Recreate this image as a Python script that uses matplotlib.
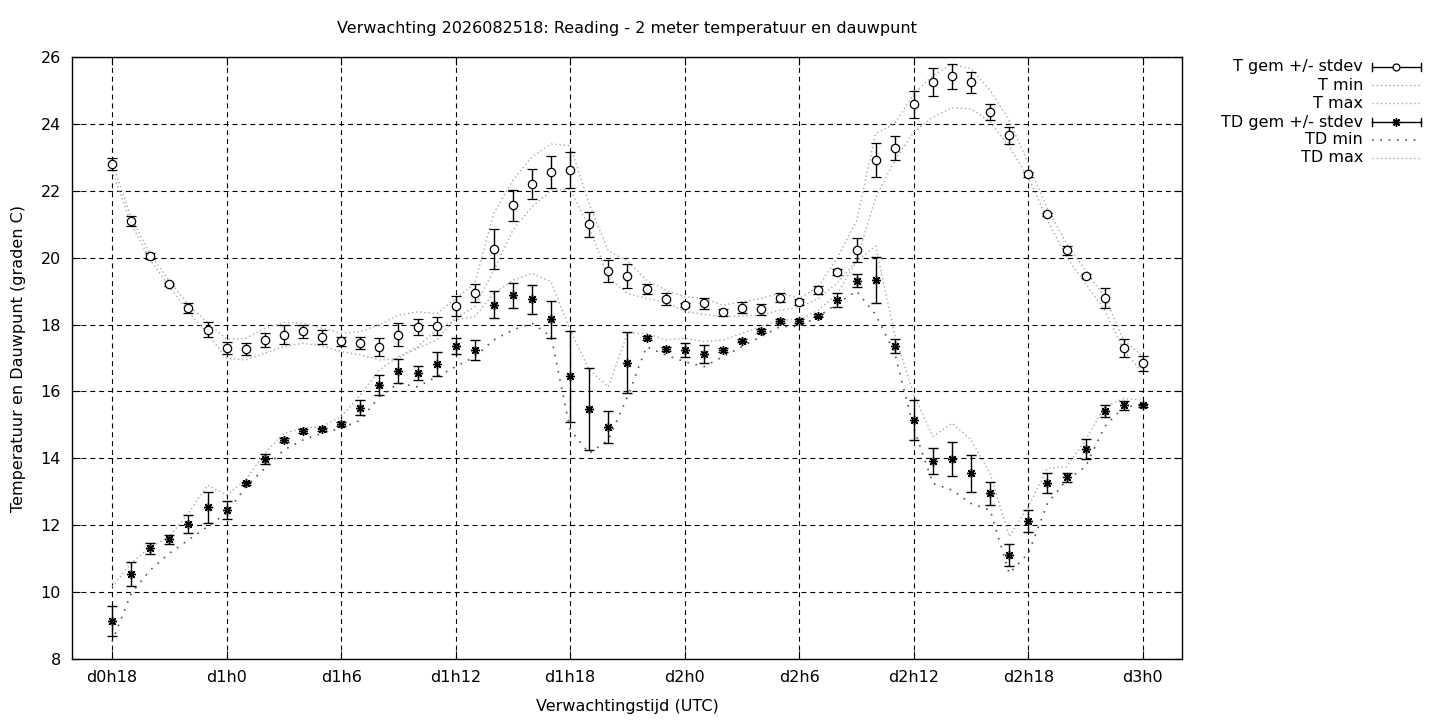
import numpy as np
import matplotlib
matplotlib.use("Agg")
import matplotlib.pyplot as plt
from matplotlib.lines import Line2D

# forecast hours (from d0h0), one value per hour
hours = list(range(18, 73))

t_mean = [22.80, 21.10, 20.05, 19.20, 18.50, 17.85, 17.30, 17.27, 17.54, 17.70,
          17.80, 17.63, 17.50, 17.45, 17.33, 17.70, 17.93, 17.96, 18.55, 18.94,
          20.26, 21.57, 22.20, 22.56, 22.62, 21.00, 19.60, 19.45, 19.06, 18.76,
          18.58, 18.64, 18.37, 18.50, 18.46, 18.80, 18.67, 19.03, 19.57, 20.22,
          22.91, 23.28, 24.59, 25.24, 25.42, 25.24, 24.36, 23.66, 22.49, 21.30,
          20.22, 19.45, 18.79, 17.30, 16.84]
t_std = [0.19, 0.14, 0.10, 0.05, 0.14, 0.22, 0.19, 0.17, 0.22, 0.29,
         0.20, 0.21, 0.14, 0.17, 0.27, 0.35, 0.25, 0.26, 0.29, 0.27,
         0.59, 0.46, 0.45, 0.49, 0.55, 0.37, 0.32, 0.35, 0.16, 0.17,
         0.05, 0.16, 0.10, 0.16, 0.16, 0.13, 0.08, 0.13, 0.10, 0.36,
         0.51, 0.37, 0.40, 0.42, 0.37, 0.31, 0.24, 0.25, 0.08, 0.05,
         0.14, 0.05, 0.29, 0.28, 0.23]
t_max = [22.85, 21.20, 20.10, 19.30, 18.60, 18.05, 17.56, 17.59, 17.89, 18.06,
         18.04, 17.89, 17.74, 17.79, 17.99, 18.28, 18.38, 18.33, 18.78, 19.23,
         21.33, 22.32, 23.02, 23.40, 23.35, 21.60, 20.20, 19.90, 19.33, 19.03,
         18.83, 18.78, 18.58, 18.68, 18.78, 18.95, 18.78, 19.13, 20.00, 21.10,
         23.71, 24.00, 24.90, 25.45, 25.78, 25.65, 25.00, 24.10, 22.81, 21.46,
         20.42, 19.62, 18.82, 17.53, 17.05]
t_min = [22.60, 21.00, 19.93, 19.13, 18.38, 17.74, 16.99, 16.94, 17.14, 17.34,
         17.44, 17.36, 17.19, 17.10, 16.94, 16.99, 17.29, 17.54, 18.19, 18.53,
         19.63, 20.83, 21.52, 22.00, 22.05, 20.90, 19.40, 18.93, 18.78, 18.68,
         18.38, 18.31, 18.24, 18.26, 18.28, 18.43, 18.51, 18.78, 19.25, 19.90,
         21.80, 22.90, 23.76, 24.20, 24.48, 24.45, 24.06, 23.31, 22.41, 21.12,
         20.02, 19.22, 18.43, 17.23, 16.55]

td_mean = [9.13, 10.54, 11.31, 11.58, 12.03, 12.53, 12.45, 13.25, 13.98, 14.55,
           14.82, 14.87, 15.03, 15.51, 16.19, 16.62, 16.54, 16.81, 17.36, 17.24,
           18.59, 18.87, 18.75, 18.16, 16.46, 15.47, 14.94, 16.86, 17.59, 17.27,
           17.24, 17.11, 17.24, 17.52, 17.81, 18.10, 18.11, 18.27, 18.73, 19.31,
           19.33, 17.36, 15.14, 13.92, 13.98, 13.55, 12.95, 11.11, 12.14, 13.25,
           13.43, 14.28, 15.41, 15.58, 15.58]
td_std = [0.45, 0.37, 0.17, 0.13, 0.27, 0.45, 0.26, 0.05, 0.15, 0.05,
          0.05, 0.05, 0.06, 0.22, 0.30, 0.36, 0.21, 0.36, 0.25, 0.29,
          0.40, 0.37, 0.44, 0.55, 1.36, 1.22, 0.48, 0.91, 0.06, 0.05,
          0.21, 0.27, 0.05, 0.05, 0.05, 0.06, 0.06, 0.05, 0.21, 0.20,
          0.69, 0.22, 0.59, 0.40, 0.52, 0.56, 0.34, 0.34, 0.33, 0.30,
          0.14, 0.31, 0.18, 0.12, 0.05]
td_max = [10.16, 10.86, 11.36, 11.66, 12.36, 13.20, 12.90, 13.35, 14.15, 14.75,
          14.90, 14.95, 15.24, 15.89, 16.64, 17.04, 17.34, 17.84, 18.14, 18.24,
          18.93, 19.33, 19.53, 19.28, 17.84, 16.64, 16.14, 17.74, 17.74, 17.54,
          17.59, 17.49, 17.54, 17.74, 17.94, 18.14, 18.14, 18.43, 18.93, 19.90,
          20.35, 17.70, 15.90, 14.65, 15.05, 14.55, 13.55, 11.66, 12.55, 13.70,
          13.75, 14.55, 15.54, 15.79, 15.74]
td_min = [8.52, 9.96, 10.66, 11.16, 11.56, 11.96, 12.36, 13.15, 13.70, 14.25,
          14.55, 14.75, 14.90, 15.14, 15.84, 16.24, 16.14, 16.44, 16.74, 17.04,
          17.54, 17.84, 18.04, 17.64, 14.85, 14.15, 14.55, 15.84, 17.34, 17.09,
          16.89, 16.74, 17.04, 17.34, 17.64, 17.94, 17.94, 18.24, 18.63, 19.00,
          18.30, 17.15, 14.90, 13.25, 13.05, 12.65, 12.45, 10.56, 11.16, 12.65,
          13.35, 13.75, 14.95, 15.54, 15.59]

legend_labels = ["T gem +/- stdev", "T min", "T max",
                 "TD gem +/- stdev", "TD min", "TD max"]
xtick_hours = list(range(18, 73, 6))

plt.rcParams['font.family'] = 'DejaVu Sans'
plt.rcParams['font.size'] = 11.5

fig = plt.figure(figsize=(14.4, 7.2), dpi=100)
ax = fig.add_axes([72/1440, 61/720, 1110/1440, 602/720])

light = '#a8a8a8'
dark = '#555555'
ax.plot(hours, t_min, color=light, lw=1.0, ls=(0, (1, 2)))
ax.plot(hours, t_max, color=light, lw=1.0, ls=(0, (1, 2)))
ax.plot(hours, td_min, color=dark, lw=1.2, ls=(0, (1, 4)))
ax.plot(hours, td_max, color=light, lw=1.0, ls=(0, (1, 2)))

ax.errorbar(hours, t_mean, yerr=t_std, fmt='o', color='black', mfc='white',
            mec='black', ms=6, mew=0.9, elinewidth=1, capsize=3.5, capthick=1)
ax.errorbar(hours, td_mean, yerr=td_std, fmt='none', ecolor='black',
            elinewidth=1, capsize=3.5, capthick=1)
ax.plot(hours, td_mean, ls='none', marker=(8, 2, 0), color='black', ms=6.5, mew=1)

ax.set_xlim(15.9, 74.05)
ax.set_ylim(8, 26)
ax.set_yticks(range(8, 27, 2))
ax.set_xticks(xtick_hours)
ax.set_xticklabels(["d%dh%d" % (h // 24, h % 24) for h in xtick_hours])
ax.tick_params(direction='in', length=6, width=0.8, top=True, right=True,
               labelsize=11.5, pad=8)
ax.grid(True, color='black', lw=0.8, ls=(0, (4.5, 3.5)))
for s in ax.spines.values():
    s.set_linewidth(1)

ax.set_xlabel("Verwachtingstijd (UTC)", fontsize=11.5, labelpad=10)
ax.set_ylabel("Temperatuur en Dauwpunt (graden C)", fontsize=11.5, labelpad=10)
fig.text(627/1440, 1 - 28/720,
         "Verwachting 2026082518: Reading - 2 meter temperatuur en dauwpunt",
         ha='center', va='center', fontsize=11.5)

# gnuplot style key, outside right
row_y = [67, 85, 103, 122, 140, 158]
x0, x1, xm = 1372/1440, 1421/1440, 1396/1440
capy = 4/720
for i, lab in enumerate(legend_labels):
    y = 1 - row_y[i]/720
    fig.text(1363/1440, y, lab, ha='right', va='center', fontsize=11.5)
    if i in (0, 3):
        fig.add_artist(Line2D([x0, x1], [y, y], color='black', lw=1))
        fig.add_artist(Line2D([x0, x0], [y - capy, y + capy], color='black', lw=1))
        fig.add_artist(Line2D([x1, x1], [y - capy, y + capy], color='black', lw=1))
        if i == 0:
            fig.add_artist(Line2D([xm], [y], marker='o', mfc='white', mec='black',
                                  ms=5, mew=0.9, ls='none'))
        else:
            fig.add_artist(Line2D([xm], [y], marker=(8, 2, 0), color='black',
                                  ms=6, mew=1, ls='none'))
    elif i == 4:
        fig.add_artist(Line2D([x0, x1], [y, y], color=dark, lw=1.2, ls=(0, (1, 4))))
    else:
        fig.add_artist(Line2D([x0, x1], [y, y], color=light, lw=1.0, ls=(0, (1, 2))))

fig.savefig("out.png", dpi=100)
